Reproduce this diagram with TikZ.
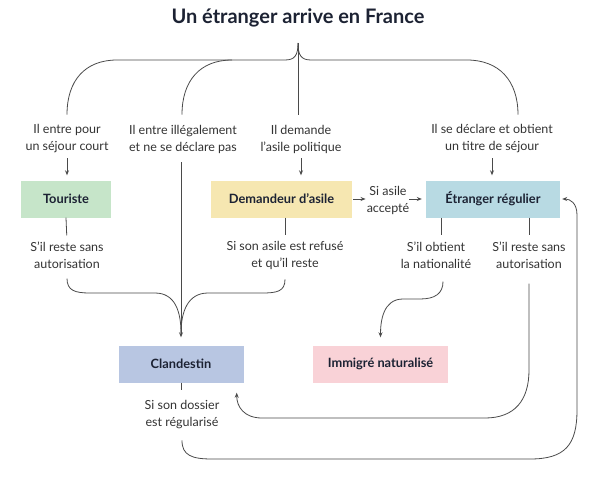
\documentclass[tikz,border=0pt]{standalone}
\usepackage{fontspec}
\setmainfont{Lato}
\usetikzlibrary{arrows.meta,positioning,calc}
\definecolor{lin}{HTML}{4A4A4A}
\definecolor{txt}{HTML}{333333}
\definecolor{ink}{HTML}{1C2233}
\definecolor{cTour}{HTML}{C6E5C9}
\definecolor{cDem}{HTML}{F6E7B1}
\definecolor{cEtr}{HTML}{B8DAE3}
\definecolor{cCla}{HTML}{B8C6E2}
\definecolor{cImm}{HTML}{F9D2D7}

\begin{document}
\begin{tikzpicture}[x=1pt,y=-1pt,>={Stealth[length=5pt,width=4pt]},
  lbl/.style={align=center,inner sep=0pt,text=txt,font=\fontsize{12.5}{17}\selectfont},
  bx/.style={minimum height=37pt,inner sep=0pt,text=ink,font=\bfseries\fontsize{12.8}{15}\selectfont},
  ln/.style={draw=lin,line width=0.8pt}]
\useasboundingbox (0,0) rectangle (608,483);
\node[text=ink,font=\bfseries\fontsize{20}{24}\selectfont] (title) at (298,18) {Un étranger arrive en France};
% situations a l'arrivee
\node[lbl] (tTour) at (67,139) {Il entre pour\\un séjour court};
\node[lbl] (tIll) at (183,139) {Il entre illégalement\\et ne se déclare pas};
\node[lbl] (tDem) at (301,139) {Il demande\\l’asile politique};
\node[lbl] (tEtr) at (492,139) {Il se déclare et obtient\\un titre de séjour};
% statuts
\node[bx,fill=cTour,minimum width=90] (tour) at (66,199) {Touriste};
\node[bx,fill=cDem,minimum width=141] (dem) at (281.5,199) {Demandeur d’asile};
\node[bx,fill=cEtr,minimum width=134] (etr) at (493,199) {Étranger régulier};
\node[bx,fill=cCla,minimum width=125] (cla) at (181,364) {Clandestin};
\node[bx,fill=cImm,minimum width=135] (imm) at (380.5,364) {Immigré naturalisé};
% conditions
\node[lbl] (tAcc) at (388,200) {Si asile\\accepté};
\node[lbl] (tTourOut) at (67,255) {S’il reste sans\\autorisation};
\node[lbl] (tRef) at (285,255) {Si son asile est refusé\\et qu’il reste};
\node[lbl] (tNat) at (436,255) {S’il obtient\\la nationalité};
\node[lbl] (tEtrOut) at (529,255) {S’il reste sans\\autorisation};
\node[lbl] (tReg) at (182,415) {Si son dossier\\est régularisé};

% accolade sous le titre
\coordinate (top) at (298,43);
\draw[ln] (top) .. controls +(0,12) and +(10,0) .. (285,60) -- (117,60)
  .. controls +(-32,0) and +(0,-34) .. ($(tTour.north)+(0,-10)$);
\draw[ln] (232,60) .. controls +(-32,0) and +(0,-34) .. ($(tIll.north)+(-1,-10)$);
\draw[ln] (top) -- ++(0,72);
\draw[ln] (top) .. controls +(0,12) and +(-10,0) .. (311,60) -- (467,60)
  .. controls +(32,0) and +(0,-34) .. ($(tEtr.north)+(26,-10)$);

% vers les statuts
\foreach \t/\b in {tTour/tour,tDem/dem,tEtr/etr}
  \draw[ln,->,shorten >=5pt] ($(\t.south)+(0,5)$) -- (\t.south|-\b.north);
\draw[ln,->,shorten <=1pt,shorten >=1pt] (dem.east) -- (dem.east-|tAcc.west);
\draw[ln,->,shorten >=4pt] (tAcc.east|-etr.west) -- (etr.west);

% traits sous les boites
\draw[ln,shorten >=6pt] (tour.south) -- (tTourOut.north);
\draw[ln,shorten >=6pt] (dem.south-|tRef.north) -- (tRef.north);
\draw[ln,shorten >=6pt] (etr.south-|tNat.north) ++(5,0) -- ($(tNat.north)+(5,0)$);
\draw[ln,shorten >=6pt] (etr.south-|tEtrOut.north) -- (tEtrOut.north);
\draw[ln] (cla.south) -- ++(0,7);

% vers Clandestin
\draw[ln,->,shorten >=8pt] ($(tIll.south-|cla.north)+(0,9)$) -- (cla.north);
\draw[ln] ($(tTourOut.south)+(0,10)$) .. controls +(0,12) and +(-15,0) .. (90,293) -- (155,293)
  .. controls +(20,0) and +(0,-22) .. ($(cla.north)+(0,-12)$);
\draw[ln] ($(tRef.south)+(0,10)$) .. controls +(0,12) and +(15,0) .. (262,293) -- (208,293)
  .. controls +(-20,0) and +(0,-22) .. ($(cla.north)+(0,-12)$);
\draw[ln,->] ($(tEtrOut.south)+(0,15)$) -- (529,370) .. controls +(0,30) and +(30,0) .. (485,418) -- (262,418)
  .. controls +(-18,0) and +(0,14) .. ($(cla.south east)+(-7,10)$);

% vers Immigre naturalise
\draw[ln,->,shorten >=8pt] ($(tNat.south)+(7,13)$) .. controls +(0,12) and +(15,0) .. (420,299) -- (403,299)
  .. controls +(-20,0) and +(0,-24) .. (imm.north);

% regularisation
\draw[ln,->] ($(tReg.south)+(0,11)$) .. controls +(0,15) and +(-20,0) .. (212,459) -- (530,459)
  .. controls +(35,0) and +(0,35) .. (577,410) -- (577,215)
  .. controls +(0,-12) and +(8,0) .. ($(etr.east)+(2,0)$);
\end{tikzpicture}
\end{document}
